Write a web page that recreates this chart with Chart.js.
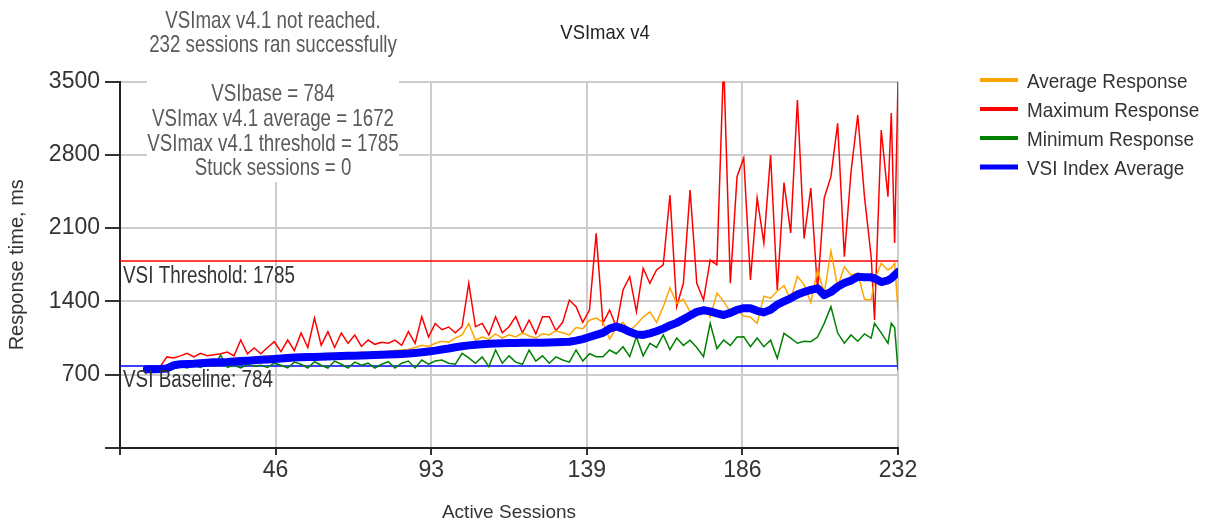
<!DOCTYPE html>
<html>
<head>
<meta charset="utf-8">
<title>VSImax v4</title>
<script src="https://cdn.jsdelivr.net/npm/chart.js@4"></script>
<style>
html, body { margin: 0; padding: 0; background: #fff; }
#wrap { position: relative; width: 1205px; height: 527px; }
</style>
</head>
<body>
<div id="wrap"><canvas id="myChart"></canvas></div>
<script>
const sessions = [
  8, 10, 12, 14, 16, 18, 20, 22, 24, 26,
  28, 30, 32, 34, 36, 38, 40, 42, 44, 46,
  48, 50, 52, 54, 56, 58, 60, 62, 64, 66,
  68, 70, 72, 74, 76, 78, 80, 82, 84, 86,
  88, 90, 92, 94, 96, 98, 100, 102, 104, 106,
  108, 110, 112, 114, 116, 118, 120, 122, 124, 126,
  128, 130, 132, 134, 136, 138, 140, 142, 144, 146,
  148, 150, 152, 154, 156, 158, 160, 162, 164, 166,
  168, 170, 172, 174, 176, 178, 180, 182, 184, 186,
  188, 190, 192, 194, 196, 198, 200, 202, 204, 206,
  208, 210, 212, 214, 216, 218, 220, 222,
  224, 225, 227, 229, 230, 231, 232
];

const avgResponse = [
  760, 765, 770, 790, 810, 820, 815, 825, 830, 825,
  840, 835, 845, 850, 855, 860, 865, 870, 880, 870,
  880, 890, 885, 890, 900, 895, 900, 905, 900, 910,
  905, 910, 915, 910, 920, 915, 925, 930, 935, 940,
  960, 980, 970, 1000, 1020, 1010, 1050, 1080, 1190, 1030,
  1060, 1040, 1090, 1050, 1080, 1060, 1100, 1070, 1050, 1090,
  1080, 1120, 1100, 1080, 1150, 1140, 1220, 1240, 1200, 1040,
  1150, 1200, 1120, 1180, 1250, 1300, 1200, 1350, 1530, 1380,
  1420, 1300, 1280, 1350, 1250, 1480, 1400, 1300, 1320, 1260,
  1250, 1190, 1450, 1430, 1500, 1550, 1420, 1640, 1560, 1390,
  1700, 1480, 1880, 1540, 1730, 1650, 1670, 1420,
  1413, 1600, 1764, 1700, 1720, 1764, 1318
];

const maxResponse = [
  770, 770, 780, 870, 860, 880, 905, 870, 905, 880,
  890, 900, 917, 880, 1031, 900, 955, 900, 960, 1015,
  920, 1031, 930, 1098, 960, 1241, 980, 1111, 960, 1098,
  1000, 1079, 970, 1031, 990, 1010, 1000, 1031, 980, 1111,
  1000, 1254, 1060, 1190, 1130, 1155, 1100, 1158, 1573, 1158,
  1190, 1080, 1254, 1100, 1158, 1254, 1100, 1222, 1090, 1254,
  1254, 1120, 1200, 1413, 1350, 1200, 1318, 2050, 1190, 1318,
  1158, 1509, 1636, 1302, 1716, 1573, 1700, 1748, 2416, 1350,
  1573, 2464, 1573, 1413, 1795, 1750, 3700, 1573, 2591, 2770,
  1604, 2388, 1958, 2798, 1509, 2535, 2053, 3323, 2000, 2483,
  1509, 2388, 2591, 3100, 1827, 2639, 3180, 2400,
  1827, 1222, 3037, 2400, 3200, 1958, 3500
];

const minResponse = [
  745, 745, 750, 770, 760, 780, 764, 790, 770, 800,
  780, 888, 770, 790, 764, 800, 780, 790, 770, 810,
  790, 764, 820, 800, 764, 824, 790, 764, 830, 800,
  764, 820, 790, 810, 764, 800, 824, 764, 810, 830,
  764, 840, 800, 830, 840, 809, 800, 904, 860, 809,
  870, 777, 936, 809, 880, 820, 800, 936, 830, 880,
  809, 870, 840, 820, 936, 830, 900, 872, 872, 936,
  900, 967, 872, 1063, 880, 1000, 960, 1079, 940, 1050,
  980, 1030, 960, 872, 1190, 950, 1030, 980, 1060, 1063,
  967, 1050, 967, 1030, 856, 1095, 1050, 1000, 1020, 1015,
  1060, 1190, 1350, 1100, 1000, 1080, 1020, 1090,
  1050, 1190, 1100, 1000, 1190, 1150, 745
];

const vsiIndexAvg = [
  752, 752, 755, 760, 790, 800, 802, 805, 810, 815,
  818, 820, 822, 826, 830, 834, 838, 842, 846, 850,
  855, 860, 864, 866, 868, 870, 872, 874, 876, 878,
  880, 882, 884, 886, 888, 890, 892, 895, 898, 902,
  908, 915, 922, 930, 940, 950, 962, 972, 980, 986,
  990, 995, 998, 1000, 1002, 1002, 1004, 1005, 1005, 1006,
  1008, 1010, 1012, 1015, 1025, 1040, 1060, 1080, 1100, 1140,
  1160, 1140, 1110, 1085, 1080, 1095, 1115, 1140, 1170, 1195,
  1230, 1265, 1300, 1315, 1305, 1285, 1270, 1290, 1320, 1335,
  1335, 1310, 1295, 1320, 1370, 1400, 1430, 1465, 1490, 1510,
  1525, 1460, 1490, 1540, 1575, 1600, 1635, 1630,
  1630, 1620, 1585, 1600, 1620, 1650, 1680
];

const vsiThreshold = 1785;
const vsiBaseline = 784;

const xTicks = [0, 46.4, 92.8, 139.2, 185.6, 232];
const xTickLabels = ['', '46', '93', '139', '186', '232'];
const yTicks = [0, 700, 1400, 2100, 2800, 3500];
const yTickLabels = ['', '700', '1400', '2100', '2800', '3500'];

const summaryLines = [
  'VSImax v4.1 not reached.',
  '232 sessions ran successfully',
  '',
  'VSIbase = 784',
  'VSImax v4.1 average = 1672',
  'VSImax v4.1 threshold = 1785',
  'Stuck sessions = 0'
];
const legendLabels = ['Average Response', 'Maximum Response', 'Minimum Response', 'VSI Index Average'];

const sans = "'Liberation Sans', Arial, sans-serif";

function points(values) {
  return sessions.map((s, i) => ({ x: s, y: values[i] }));
}

function flat(value) {
  return [{ x: xTicks[0], y: value }, { x: xTicks[xTicks.length - 1], y: value }];
}

// squeezed text, the original uses a narrow face
function narrowText(ctx, text, x, y, size, sx, align, color) {
  ctx.save();
  ctx.font = size + 'px ' + sans;
  ctx.fillStyle = color;
  ctx.textAlign = align;
  ctx.textBaseline = 'middle';
  ctx.translate(x, y);
  ctx.scale(sx, 1);
  ctx.fillText(text, 0, 0);
  ctx.restore();
}

const extras = {
  id: 'extras',
  beforeDatasetsDraw(chart) {
    const ctx = chart.ctx;
    ctx.save();
    ctx.fillStyle = '#fff';
    ctx.fillRect(147, 6, 252, 176);
    ctx.restore();
    summaryLines.forEach((t, i) => narrowText(ctx, t, 273, 21 + i * 24.6, 24, 0.78, 'center', '#5a5a5a'));
    narrowText(ctx, 'VSImax v4', 605, 33, 21, 0.88, 'center', '#222');
  },
  afterDatasetsDraw(chart) {
    const { ctx, chartArea, scales: { y } } = chart;
    narrowText(ctx, 'VSI Threshold: ' + vsiThreshold, chartArea.left + 3, y.getPixelForValue(vsiThreshold) + 16, 23, 0.82, 'left', '#333');
    narrowText(ctx, 'VSI Baseline: ' + vsiBaseline, chartArea.left + 3, y.getPixelForValue(vsiBaseline) + 15, 23, 0.82, 'left', '#333');

    chart.data.datasets.forEach(ds => {
      const i = legendLabels.indexOf(ds.label);
      if (i < 0) return;
      const ly = 80 + i * 29;
      const h = i === 3 ? 5 : 4;
      ctx.fillStyle = ds.borderColor;
      ctx.fillRect(980, ly - h / 2, 38, h);
      narrowText(ctx, ds.label, 1027, ly + 2, 21, 0.9, 'left', '#333');
    });
  }
};

const ctx = document.getElementById('myChart').getContext('2d');
const myChart = new Chart(ctx, {
  type: 'line',
  data: {
    datasets: [
      { label: 'Average Response', data: points(avgResponse), borderColor: '#ffa500', borderWidth: 1.5, order: 1 },
      { label: 'Maximum Response', data: points(maxResponse), borderColor: '#ff0000', borderWidth: 1.5, order: 3 },
      { label: 'Minimum Response', data: points(minResponse), borderColor: '#008000', borderWidth: 1.5, order: 2 },
      { label: 'VSI Index Average', data: points(vsiIndexAvg), borderColor: '#0000ff', borderWidth: 8,
        borderCapStyle: 'round', borderJoinStyle: 'round', order: 0 },
      { label: 'threshold', data: flat(vsiThreshold), borderColor: '#ff0000', borderWidth: 1.5, order: 4 },
      { label: 'baseline', data: flat(vsiBaseline), borderColor: '#0000ff', borderWidth: 1.5, order: 5 }
    ]
  },
  options: {
    responsive: true,
    maintainAspectRatio: false,
    animation: false,
    layout: { padding: { left: 0, right: 307, top: 81.5, bottom: 0 } },
    elements: { point: { radius: 0 }, line: { tension: 0 } },
    plugins: {
      legend: { display: false },
      tooltip: { enabled: false },
      title: { display: false }
    },
    scales: {
      x: {
        type: 'linear',
        min: 0,
        max: 232,
        afterBuildTicks: scale => { scale.ticks = xTicks.map(v => ({ value: v })); },
        afterFit: scale => { scale.height = 79; },
        grid: { color: '#cccccc', lineWidth: 2, tickLength: 7, tickColor: '#333' },
        border: { color: '#222', width: 2 },
        ticks: {
          color: '#333',
          font: { family: sans, size: 23 },
          padding: 2,
          maxRotation: 0,
          callback: (value, index) => xTickLabels[index]
        },
        title: {
          display: true,
          text: 'Active Sessions',
          color: '#333',
          font: { family: sans, size: 19 },
          padding: { top: 0, bottom: 3 }
        }
      },
      y: {
        min: 0,
        max: 3500,
        afterBuildTicks: scale => { scale.ticks = yTicks.map(v => ({ value: v })); },
        afterFit: scale => { scale.width = 120; },
        grid: { color: '#cccccc', lineWidth: 2, tickLength: 15, tickColor: '#333' },
        border: { color: '#222', width: 2 },
        ticks: {
          color: '#333',
          font: { family: sans, size: 23 },
          padding: 5,
          callback: (value, index) => yTickLabels[index]
        },
        title: {
          display: true,
          text: 'Response time, ms',
          color: '#333',
          font: { family: sans, size: 20 },
          padding: { top: 5, bottom: 0 }
        }
      }
    }
  },
  plugins: [extras]
});
</script>
</body>
</html>
